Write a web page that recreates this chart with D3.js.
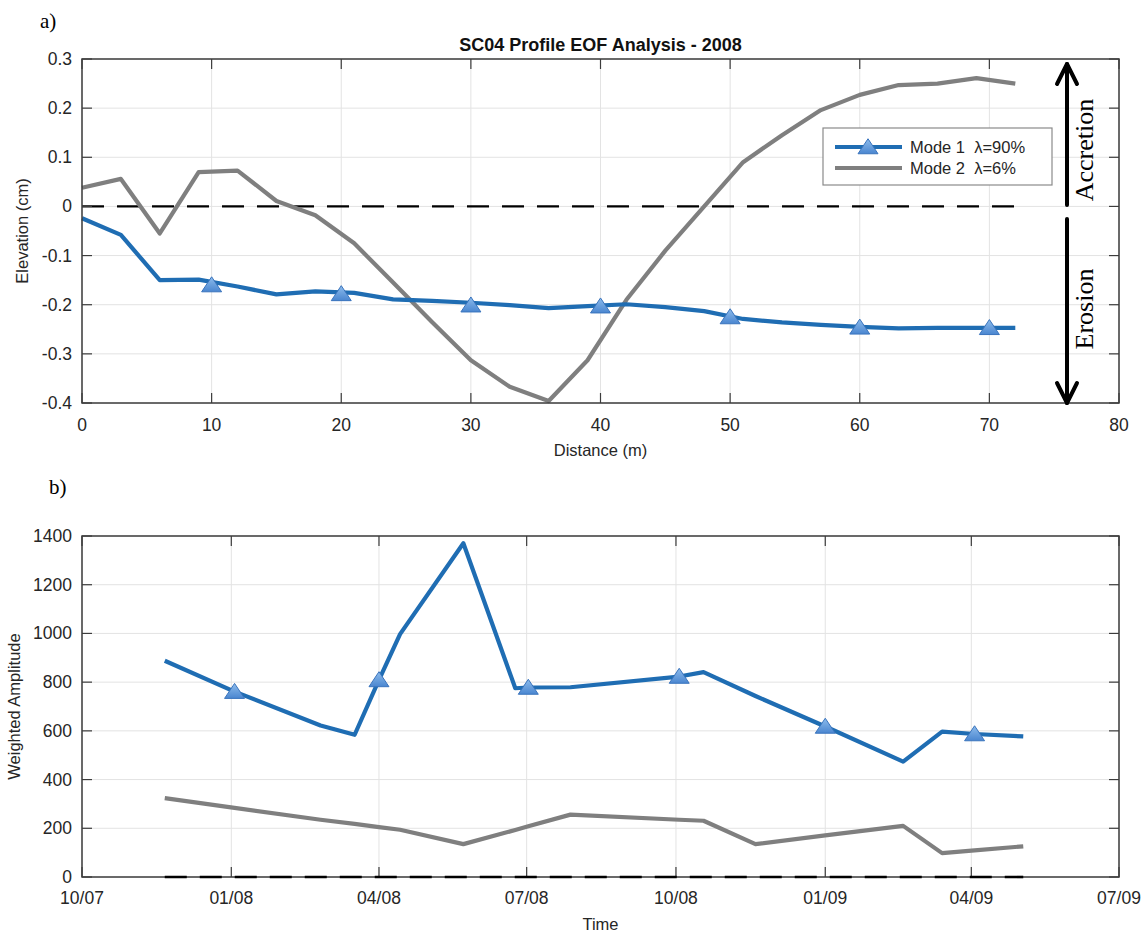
<!DOCTYPE html>
<html>
<head>
<meta charset="utf-8">
<script src="https://cdn.jsdelivr.net/npm/d3@7"></script>
<style>
  html, body { margin: 0; padding: 0; background: #fff; }
  svg { display: block; }
  text { font-family: "Liberation Sans", Arial, Helvetica, sans-serif; fill: #262626; }
</style>
</head>
<body>
<svg id="chart" width="1143" height="935"></svg>
<script>
// ---------- Panel a data ----------
const distance = [0,3,6,9,12,15,18,21,24,27,30,33,36,39,42,45,48,51,54,57,60,63,66,69,72];
const mode1Elev = [-0.024,-0.058,-0.150,-0.149,-0.163,-0.179,-0.173,-0.176,-0.189,-0.192,-0.196,-0.201,-0.207,-0.203,-0.199,-0.205,-0.213,-0.229,-0.236,-0.241,-0.245,-0.248,-0.247,-0.247,-0.247];
const mode2Elev = [0.038,0.056,-0.055,0.070,0.073,0.011,-0.018,-0.075,-0.155,-0.235,-0.313,-0.367,-0.396,-0.313,-0.190,-0.090,0.000,0.090,0.145,0.196,0.227,0.247,0.250,0.261,0.250];
const mode1MarkDist = [10,20,30,40,50,60,70];
const mode1MarkElev = [-0.160,-0.178,-0.201,-0.203,-0.225,-0.246,-0.247];
const distTicks = [0,10,20,30,40,50,60,70,80];
const elevTicks = [-0.4,-0.3,-0.2,-0.1,0,0.1,0.2,0.3];

// ---------- Panel b data ----------
const sampleDates = ["2007-11-21","2008-01-03","2008-02-25","2008-03-17","2008-04-01","2008-04-14","2008-05-23","2008-06-24","2008-07-02","2008-07-28","2008-10-03","2008-10-18","2008-11-19","2009-01-01","2009-02-18","2009-03-14","2009-04-03","2009-05-03"];
const mode1Amp = [888,761,622,584,809,997,1370,775,778,779,823,841,743,618,474,597,587,577];
const mode2Amp = [324,284,235,218,205,194,135,193,208,256,235,231,135,171,210,98,109,126];
const mode1MarkerIdx = [1,4,8,10,13,16];
const ampTicks = [0,200,400,600,800,1000,1200,1400];
const timeTickLabels = ["10/07","01/08","04/08","07/08","10/08","01/09","04/09","07/09"];

const legendLabels = ["Mode 1  \u03bb=90%", "Mode 2  \u03bb=6%"];
const titleText = "SC04 Profile EOF Analysis - 2008";

// ---------- styling ----------
const BLUE = "#1f6db3";
const GRAY = "#7f7f7f";
const AXIS = "#3c3c3c";
const GRID = "#e3e3e3";
const LW = 4.2;
const TICKLEN = 10;
const TICKFONT = 17.5;

const svg = d3.select("#chart");
const L = 82, R = 1119;

const defs = svg.append("defs");
const grad = defs.append("linearGradient").attr("id","triGrad").attr("x1",0).attr("y1",0).attr("x2",0).attr("y2",1);
grad.append("stop").attr("offset","0%").attr("stop-color","#8dbcec");
grad.append("stop").attr("offset","100%").attr("stop-color","#4a86d0");

function triangle(g, x, y) {
  const w = 10, h = 15;
  g.append("path")
    .attr("d", `M${x},${y - h*0.55} L${x + w},${y + h*0.45} L${x - w},${y + h*0.45} Z`)
    .attr("fill", "url(#triGrad)")
    .attr("stroke", "#3a74bd")
    .attr("stroke-width", 1);
}

function frame(g, x, y, xTicks, yTicks, top, bottom) {
  g.append("g").selectAll("line").data(xTicks).join("line")
    .attr("x1", d => x(d)).attr("x2", d => x(d))
    .attr("y1", top).attr("y2", bottom)
    .attr("stroke", GRID).attr("stroke-width", 1);
  g.append("g").selectAll("line").data(yTicks).join("line")
    .attr("x1", L).attr("x2", R)
    .attr("y1", d => y(d)).attr("y2", d => y(d))
    .attr("stroke", GRID).attr("stroke-width", 1);
}

function boxAndTicks(g, x, y, xTicks, yTicks, top, bottom) {
  const t = g.append("g").attr("stroke", AXIS).attr("stroke-width", 1.2);
  xTicks.forEach(d => {
    t.append("line").attr("x1", x(d)).attr("x2", x(d)).attr("y1", bottom).attr("y2", bottom - TICKLEN);
    t.append("line").attr("x1", x(d)).attr("x2", x(d)).attr("y1", top).attr("y2", top + TICKLEN);
  });
  yTicks.forEach(d => {
    t.append("line").attr("x1", L).attr("x2", L + TICKLEN).attr("y1", y(d)).attr("y2", y(d));
    t.append("line").attr("x1", R).attr("x2", R - TICKLEN).attr("y1", y(d)).attr("y2", y(d));
  });
  g.append("rect").attr("x", L).attr("y", top).attr("width", R - L).attr("height", bottom - top)
    .attr("fill", "none").attr("stroke", AXIS).attr("stroke-width", 1.5);
}

// ================= Panel a =================
const aTop = 59, aBot = 403;
const xA = d3.scaleLinear().domain([0, 80]).range([L, R]);
const yA = d3.scaleLinear().domain([-0.4, 0.3]).range([aBot, aTop]);
const gA = svg.append("g");

frame(gA, xA, yA, distTicks, elevTicks, aTop, aBot);

gA.append("line")
  .attr("x1", xA(distance[0])).attr("x2", xA(distance[distance.length-1]))
  .attr("y1", yA(0)).attr("y2", yA(0))
  .attr("stroke", "#000").attr("stroke-width", 2.2).attr("stroke-dasharray", "22,13");

const lineA = d3.line().x((d,i) => xA(distance[i])).y(d => yA(d));
gA.append("path").datum(mode2Elev).attr("d", lineA)
  .attr("fill","none").attr("stroke", GRAY).attr("stroke-width", LW).attr("stroke-linejoin","round");
gA.append("path").datum(mode1Elev).attr("d", lineA)
  .attr("fill","none").attr("stroke", BLUE).attr("stroke-width", LW).attr("stroke-linejoin","round");
mode1MarkDist.forEach((d,i) => triangle(gA, xA(d), yA(mode1MarkElev[i])));

boxAndTicks(gA, xA, yA, distTicks, elevTicks, aTop, aBot);

gA.append("g").selectAll("text").data(distTicks).join("text")
  .attr("x", d => xA(d)).attr("y", 431).attr("text-anchor","middle")
  .attr("font-size", TICKFONT).text(d => d);
gA.append("g").selectAll("text").data(elevTicks).join("text")
  .attr("x", 72).attr("y", d => yA(d) + 6).attr("text-anchor","end")
  .attr("font-size", TICKFONT).text(d => String(+d.toFixed(1)));

gA.append("text").attr("x", (L+R)/2).attr("y", 51).attr("text-anchor","middle")
  .attr("font-size", 18).attr("font-weight","bold").style("fill","#111").text(titleText);
gA.append("text").attr("x", (L+R)/2).attr("y", 456).attr("text-anchor","middle")
  .attr("font-size", 16.5).text("Distance (m)");
gA.append("text").attr("transform", `translate(28,${(aTop+aBot)/2}) rotate(-90)`)
  .attr("text-anchor","middle").attr("font-size", 16.5).text("Elevation (cm)");

// legend
const lg = gA.append("g");
lg.append("rect").attr("x", 823).attr("y", 128).attr("width", 229).attr("height", 57)
  .attr("fill","#fff").attr("stroke","#8a8a8a").attr("stroke-width",1.2);
const legRows = [{c: BLUE, y: 147, marker: true}, {c: GRAY, y: 168, marker: false}];
legRows.forEach((r, i) => {
  lg.append("line").attr("x1", 835).attr("x2", 902).attr("y1", r.y).attr("y2", r.y)
    .attr("stroke", r.c).attr("stroke-width", LW);
  if (r.marker) triangle(lg, 868, r.y);
  lg.append("text").attr("x", 910).attr("y", r.y + 6).attr("font-size", 16.5)
    .attr("xml:space","preserve").style("white-space","pre").text(legendLabels[i]);
});

// accretion / erosion arrows
const arr = svg.append("g").attr("stroke","#000").attr("stroke-width", 4).attr("fill","none")
  .attr("stroke-linecap","round").attr("stroke-linejoin","round");
const ax = 1067;
arr.append("line").attr("x1", ax).attr("x2", ax).attr("y1", 205).attr("y2", 64);
arr.append("path").attr("d", `M${ax-10},${84} L${ax},${64} L${ax+10},${84}`);
arr.append("line").attr("x1", ax).attr("x2", ax).attr("y1", 219).attr("y2", 403);
arr.append("path").attr("d", `M${ax-10},${383} L${ax},${403} L${ax+10},${383}`);
svg.append("text").attr("transform", "translate(1093,150) rotate(-90)")
  .attr("text-anchor","middle").style("font-family","'Liberation Serif','Times New Roman',serif")
  .style("fill","#000").attr("font-size", 26).text("Accretion");
svg.append("text").attr("transform", "translate(1093,309) rotate(-90)")
  .attr("text-anchor","middle").style("font-family","'Liberation Serif','Times New Roman',serif")
  .style("fill","#000").attr("font-size", 26).text("Erosion");

svg.append("text").attr("x", 40).attr("y", 28).style("font-family","'Liberation Serif','Times New Roman',serif")
  .style("fill","#000").attr("font-size", 21).text("a)");
svg.append("text").attr("x", 49).attr("y", 494).style("font-family","'Liberation Serif','Times New Roman',serif")
  .style("fill","#000").attr("font-size", 21).text("b)");

// ================= Panel b =================
const bTop = 536, bBot = 877;
const parse = d3.utcParse("%Y-%m-%d");
const dates = sampleDates.map(parse);
const xB = d3.scaleUtc().domain([parse("2007-10-01"), parse("2009-07-01")]).range([L, R]);
const yB = d3.scaleLinear().domain([0, 1400]).range([bBot, bTop]);
const timeTicks = xB.ticks(d3.utcMonth.every(3));
const gB = svg.append("g");

frame(gB, xB, yB, timeTicks, ampTicks, bTop, bBot);
boxAndTicks(gB, xB, yB, timeTicks, ampTicks, bTop, bBot);

gB.append("line")
  .attr("x1", xB(dates[0])).attr("x2", xB(dates[dates.length-1]))
  .attr("y1", yB(0)).attr("y2", yB(0))
  .attr("stroke", "#000").attr("stroke-width", 2.6).attr("stroke-dasharray", "22,13");

const lineB = d3.line().x((d,i) => xB(dates[i])).y(d => yB(d));
gB.append("path").datum(mode2Amp).attr("d", lineB)
  .attr("fill","none").attr("stroke", GRAY).attr("stroke-width", LW).attr("stroke-linejoin","round");
gB.append("path").datum(mode1Amp).attr("d", lineB)
  .attr("fill","none").attr("stroke", BLUE).attr("stroke-width", LW).attr("stroke-linejoin","round");
mode1MarkerIdx.forEach(i => triangle(gB, xB(dates[i]), yB(mode1Amp[i])));

gB.append("g").selectAll("text").data(timeTicks).join("text")
  .attr("x", d => xB(d)).attr("y", 904).attr("text-anchor","middle")
  .attr("font-size", TICKFONT).text((d,i) => timeTickLabels[i]);
gB.append("g").selectAll("text").data(ampTicks).join("text")
  .attr("x", 72).attr("y", d => yB(d) + 6).attr("text-anchor","end")
  .attr("font-size", TICKFONT).text(d => d);
gB.append("text").attr("x", (L+R)/2).attr("y", 930).attr("text-anchor","middle")
  .attr("font-size", 16.5).text("Time");
gB.append("text").attr("transform", `translate(20,${(bTop+bBot)/2}) rotate(-90)`)
  .attr("text-anchor","middle").attr("font-size", 16.5).text("Weighted Amplitude");
</script>
</body>
</html>
